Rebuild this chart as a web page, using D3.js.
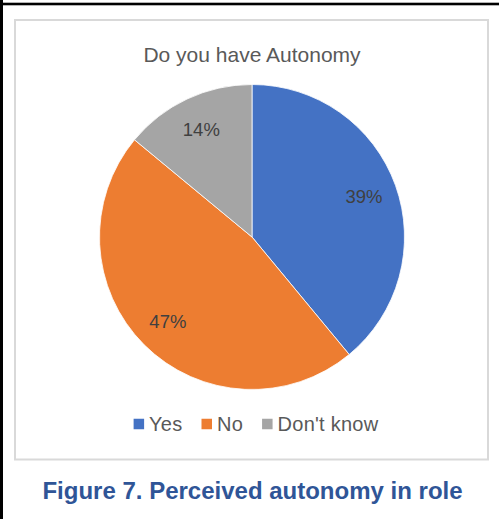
<!DOCTYPE html>
<html>
<head>
<meta charset="utf-8">
<script src="https://cdn.jsdelivr.net/npm/d3@7"></script>
<style>
  html, body { margin: 0; padding: 0; background: #fff; }
  svg { display: block; }
  text { font-family: "Liberation Sans", Arial, sans-serif; }
</style>
</head>
<body>
<svg id="chart" width="499" height="519"></svg>
<script>
// Survey answers: share of respondents (%)
const categories = ["Yes", "No", "Don't know"];
const values = [39, 47, 14];
const colors = ["#4472C4", "#ED7D31", "#A5A5A5"];
const chartTitle = "Do you have Autonomy";
const caption = "Figure 7. Perceived autonomy in role";

const svg = d3.select("#chart");

// page frame (left and top rule)
svg.append("rect").attr("x", 0).attr("y", 0).attr("width", 3).attr("height", 519).attr("fill", "#000");
svg.append("rect").attr("x", 0).attr("y", 2.7).attr("width", 499).attr("height", 2.6).attr("fill", "#000");

// chart area border
svg.append("rect")
  .attr("x", 15).attr("y", 20).attr("width", 473).attr("height", 439.5)
  .attr("fill", "#fff").attr("stroke", "#D9D9D9").attr("stroke-width", 2);

// title
svg.append("text")
  .attr("x", 252).attr("y", 61.5)
  .attr("text-anchor", "middle")
  .attr("font-size", 21)
  .attr("fill", "#595959")
  .text(chartTitle);

// pie
const cx = 252, cy = 237, radius = 152.5;
const data = categories.map((c, i) => ({ category: c, value: values[i], color: colors[i] }));
const pie = d3.pie().value(d => d.value).sort(null);
const arc = d3.arc().innerRadius(0).outerRadius(radius);
const labelArc = d3.arc().innerRadius(119).outerRadius(119);

const g = svg.append("g").attr("transform", `translate(${cx},${cy})`);
const arcs = pie(data);

g.selectAll("path.slice")
  .data(arcs)
  .join("path")
  .attr("class", "slice")
  .attr("d", arc)
  .attr("fill", d => d.data.color)
  .attr("stroke", "#fff")
  .attr("stroke-width", 0.8);

g.selectAll("text.label")
  .data(arcs)
  .join("text")
  .attr("class", "label")
  .attr("transform", d => {
    const [x, y] = labelArc.centroid(d);
    return `translate(${x},${y})`;
  })
  .attr("text-anchor", "middle")
  .attr("dy", "0.35em")
  .attr("font-size", 18.5)
  .attr("fill", "#404040")
  .text(d => d.data.value + "%");

// legend
const legend = svg.append("g");
const legendY = 424;
const items = legend.selectAll("g.item").data(data).join("g").attr("class", "item");
items.append("rect")
  .attr("width", 10.5).attr("height", 10.5)
  .attr("y", legendY - 5.25)
  .attr("fill", d => d.color);
items.append("text")
  .attr("x", 15.5)
  .attr("y", legendY + 7)
  .attr("font-size", 20)
  .attr("letter-spacing", 0.25)
  .attr("fill", "#595959")
  .text(d => d.category);

const widths = [];
items.each(function () {
  widths.push(this.querySelector("text").getComputedTextLength() + 15.5);
});
const gap = 19;
const total = widths.reduce((a, b) => a + b, 0) + gap * (widths.length - 1);
let x0 = 256 - total / 2;
items.attr("transform", (d, i) => {
  const t = `translate(${x0},0)`;
  x0 += widths[i] + gap;
  return t;
});

// figure caption
svg.append("text")
  .attr("x", 252.5).attr("y", 499.3)
  .attr("text-anchor", "middle")
  .attr("font-size", 24)
  .attr("font-weight", "bold")
  .attr("fill", "#2F5597")
  .text(caption);
</script>
</body>
</html>
